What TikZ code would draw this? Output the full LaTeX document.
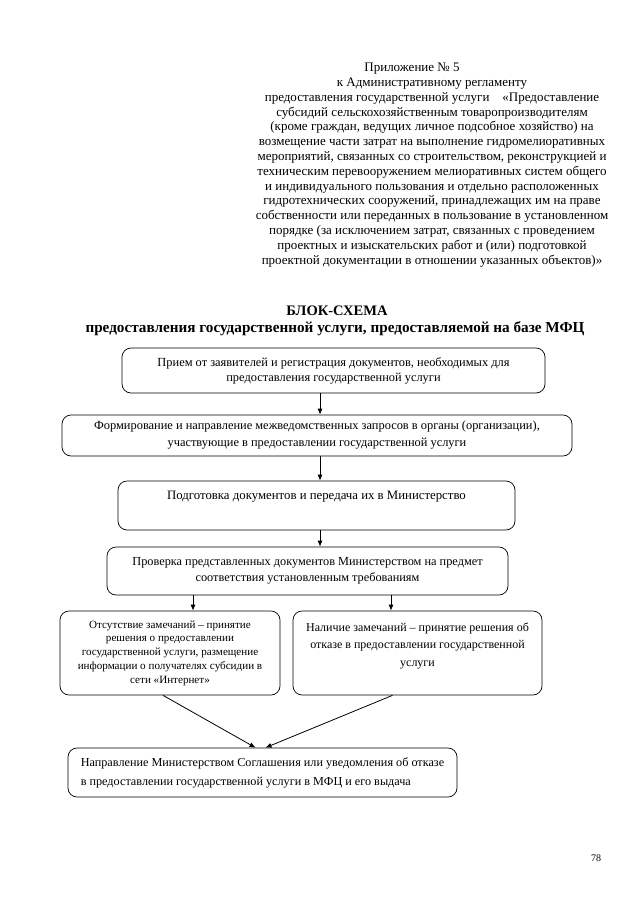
\documentclass[tikz,border=0pt]{standalone}
\usepackage{fontspec}
\setmainfont{Liberation Serif}
\usetikzlibrary{arrows.meta}
\tikzset{
blok/.style={draw,rounded corners=9pt,line width=0.7pt,inner sep=3pt,align=center},
strel/.style={-{Latex[length=6pt,width=5pt]},line width=0.8pt}
}
\begin{document}
\begin{tikzpicture}[x=1pt,y=-1pt,font=\fontsize{12.4}{17}\selectfont]
\useasboundingbox (0,0) rectangle (640,905);

% shapka
\node[align=center,font=\fontsize{13}{14.8}\selectfont] (shapka) at (432,165) {Приложение № 5\hspace*{40pt}\\
к Административному регламенту\\
предоставления государственной услуги\quad «Предоставление\\
субсидий сельскохозяйственным товаропроизводителям\\
(кроме граждан, ведущих личное подсобное хозяйство) на\\
возмещение части затрат на выполнение гидромелиоративных\\
мероприятий, связанных со строительством, реконструкцией и\\
техническим перевооружением мелиоративных систем общего\\
и индивидуального пользования и отдельно расположенных\\
гидротехнических сооружений, принадлежащих им на праве\\
собственности или переданных в пользование в установленном\\
порядке (за исключением затрат, связанных с проведением\\
проектных и изыскательских работ и (или) подготовкой\\
проектной документации в отношении указанных объектов)»};

\node[font=\fontsize{14.5}{16}\bfseries] (zag) at (337,311) {БЛОК-СХЕМА};
\node[font=\fontsize{15.2}{17}\bfseries] (podzag) at (335,329) {предоставления государственной услуги, предоставляемой на базе МФЦ};

% bloki
\node[blok,minimum width=423,minimum height=45,font=\fontsize{12.4}{15}\selectfont] (b1) at (333.5,370.5)
{Прием от заявителей и регистрация документов, необходимых для\\ предоставления государственной услуги};
\node[blok,minimum width=510,minimum height=41] (b2) at (317,435.5)
{Формирование и направление межведомственных запросов в органы (организации),\\ участвующие в предоставлении государственной услуги};
\node[blok,minimum width=397,minimum height=49,font=\fontsize{12.8}{21}\selectfont] (b3) at (316.5,505.5)
{Подготовка документов и передача их в Министерство\\ \mbox{}};
\node[blok,minimum width=401,minimum height=48,font=\fontsize{12.3}{16}\selectfont] (b4) at (307.5,571)
{Проверка представленных документов Министерством на предмет\\ соответствия установленным требованиям};
\node[blok,minimum width=220,minimum height=84,font=\fontsize{11.1}{13.8}\selectfont] (b5) at (170,653)
{Отсутствие замечаний – принятие\\ решения о предоставлении\\ государственной услуги, размещение\\ информации о получателях субсидии в\\ сети «Интернет»};
\node[blok,minimum width=249,minimum height=84,font=\fontsize{12}{17.5}\selectfont] (b6) at (417.5,653)
{Наличие замечаний – принятие решения об\\ отказе в предоставлении государственной\\ услуги\\ \mbox{}};
\node[blok,minimum width=389,minimum height=49,align=left,font=\fontsize{12.2}{19}\selectfont] (b7) at (262.5,772.5)
{Направление Министерством Соглашения или уведомления об отказе\\ в предоставлении государственной услуги в МФЦ и его выдача};

\node[font=\fontsize{10}{12}\selectfont] (nomer) at (596,858) {78};

% strelki
\coordinate (os) at (320,0);
\coordinate (osl) at (193,0);
\coordinate (osr) at (391,0);
\draw[strel] (b1.south -| os) -- (b2.north -| os);
\draw[strel] (b2.south -| os) -- (b3.north -| os);
\draw[strel] (b3.south -| os) -- (b4.north -| os);
\draw[strel] (b4.south -| osl) -- (b5.north -| osl);
\draw[strel] (b4.south -| osr) -- (b6.north -| osr);
\draw[strel] ([xshift=-7]b5.south) -- ([xshift=-7]b7.north);
\draw[strel] ([xshift=-25]b6.south) -- ([xshift=3]b7.north);
\end{tikzpicture}
\end{document}
